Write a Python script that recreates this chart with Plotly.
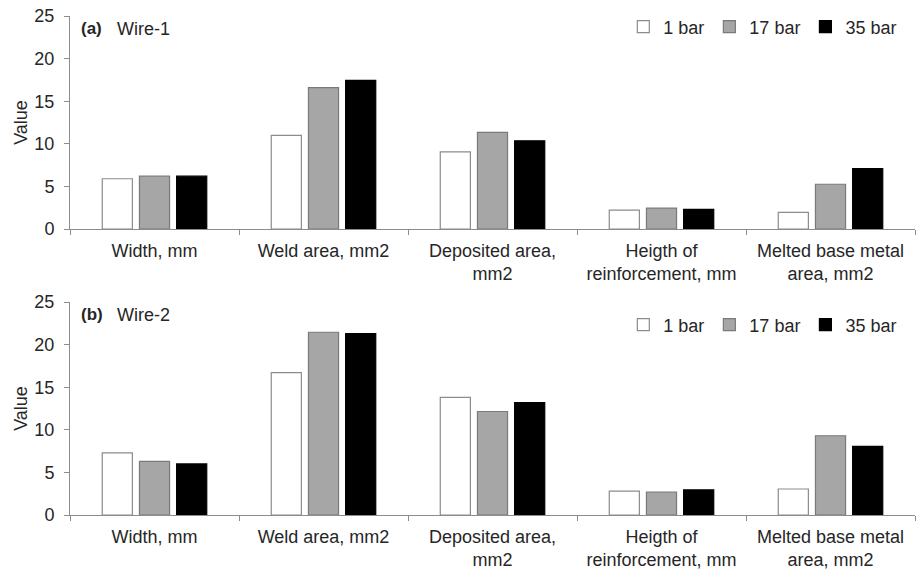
import plotly.graph_objects as go

categories = ["Width, mm", "Weld area, mm2", "Deposited area,<br>mm2",
              "Heigth of<br>reinforcement, mm", "Melted base metal<br>area, mm2"]
series_names = ["1 bar", "17 bar", "35 bar"]

wire1_1bar = [5.9, 11.0, 9.05, 2.22, 1.95]
wire1_17bar = [6.2, 16.6, 11.35, 2.45, 5.25]
wire1_35bar = [6.2, 17.45, 10.35, 2.3, 7.1]

wire2_1bar = [7.3, 16.7, 13.8, 2.8, 3.05]
wire2_17bar = [6.3, 21.45, 12.15, 2.7, 9.3]
wire2_35bar = [6.0, 21.3, 13.2, 2.95, 8.05]

y_ticks = [0, 5, 10, 15, 20, 25]

fills = ["#ffffff", "#a6a6a6", "#000000"]
lines = ["#8c8c8c", "#7a7a7a", "#000000"]

FONT = "Liberation Sans, Arial, sans-serif"
TXT = "#262626"
AX = "#8c8c8c"
FS = 18

fig = go.Figure()
for i, (name, vals) in enumerate(zip(series_names, [wire1_1bar, wire1_17bar, wire1_35bar])):
    fig.add_trace(go.Bar(x=categories, y=vals, name=name, xaxis="x", yaxis="y",
                         marker=dict(color=fills[i], line=dict(color=lines[i], width=1.2)),
                         legend="legend"))
for i, (name, vals) in enumerate(zip(series_names, [wire2_1bar, wire2_17bar, wire2_35bar])):
    fig.add_trace(go.Bar(x=categories, y=vals, name=name, xaxis="x2", yaxis="y2",
                         marker=dict(color=fills[i], line=dict(color=lines[i], width=1.2)),
                         legend="legend2"))

xcommon = dict(showline=True, linecolor=AX, linewidth=1, ticks="outside", tickson="boundaries",
               ticklen=5, tickcolor=AX, showgrid=False, zeroline=False, automargin=False,
               ticklabelstandoff=5,
               tickfont=dict(family=FONT, size=FS, color=TXT))
ycommon = dict(showline=True, linecolor=AX, linewidth=1, ticks="outside", ticklen=5, tickcolor=AX,
               showgrid=False, zeroline=False, range=[0, 25], tickvals=y_ticks, automargin=False,
               ticklabelstandoff=6,
               tickfont=dict(family=FONT, size=FS, color=TXT),
               title=dict(text="Value", font=dict(family=FONT, size=FS, color=TXT), standoff=2))

H = 571
top_px, bot_px = 16, 515

def dom(y_top, y_bottom):
    span = bot_px - top_px
    return [(bot_px - y_bottom) / span, (bot_px - y_top) / span]

legend_common = dict(orientation="h", x=0.985, xanchor="right", yanchor="middle",
                     font=dict(family=FONT, size=FS, color=TXT), bgcolor="rgba(0,0,0,0)",
                     itemwidth=30, traceorder="normal")

fig.update_layout(
    width=916, height=571,
    margin=dict(l=70, r=1, t=top_px, b=H - bot_px, autoexpand=False),
    paper_bgcolor="white", plot_bgcolor="white",
    barmode="group", bargap=0.34, bargroupgap=0.19,
    font=dict(family=FONT, size=FS, color=TXT),
    xaxis=dict(anchor="y", domain=[0, 1], **xcommon),
    yaxis=dict(anchor="x", domain=dom(16, 229), **ycommon),
    xaxis2=dict(anchor="y2", domain=[0, 1], **xcommon),
    yaxis2=dict(anchor="x2", domain=dom(302, 515), **ycommon),
    legend=dict(y=dom(27, 27)[0], **legend_common),
    legend2=dict(y=dom(325, 325)[0], **legend_common),
    annotations=[
        dict(text="<b>(a)</b>", xref="x domain", yref="y domain", x=0.011, y=0.939,
             xanchor="left", yanchor="middle", showarrow=False, font=dict(family=FONT, size=17, color=TXT)),
        dict(text="Wire-1", xref="x domain", yref="y domain", x=0.053, y=0.939,
             xanchor="left", yanchor="middle", showarrow=False, font=dict(family=FONT, size=FS, color=TXT)),
        dict(text="<b>(b)</b>", xref="x2 domain", yref="y2 domain", x=0.011, y=0.939,
             xanchor="left", yanchor="middle", showarrow=False, font=dict(family=FONT, size=17, color=TXT)),
        dict(text="Wire-2", xref="x2 domain", yref="y2 domain", x=0.053, y=0.939,
             xanchor="left", yanchor="middle", showarrow=False, font=dict(family=FONT, size=FS, color=TXT)),
    ],
)

fig.write_html("out.html", config={"displayModeBar": False},
               post_script="document.body.style.margin='0px';document.body.style.overflow='hidden';")
